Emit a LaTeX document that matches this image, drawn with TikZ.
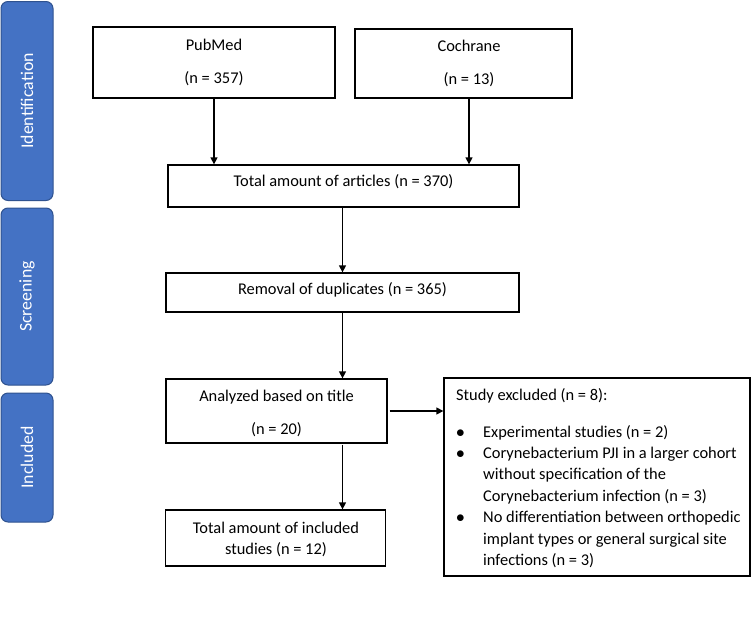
\documentclass[tikz,border=0pt]{standalone}
\usepackage{fontspec}
\setmainfont{Carlito}
\usetikzlibrary{arrows.meta}
\definecolor{phaseblue}{HTML}{4472C4}
\definecolor{phaseedge}{HTML}{2F528F}
\tikzset{
  phase/.style={draw=phaseedge, line width=1pt, fill=phaseblue, rounded corners=7pt},
  phasetext/.style={text=white, rotate=90, font=\fontsize{17.8}{20}\selectfont},
  flowbox/.style={draw=black, line width=1.3pt, inner sep=0pt},
  boxtext/.style={font=\fontsize{16.4}{19}\selectfont, inner sep=0pt, align=center},
  flowarrow/.style={draw=black, line width=1.3pt, -{Triangle[length=7pt,width=7pt]}},
  listtext/.style={font=\fontsize{16.4}{19}\selectfont, inner sep=0pt, anchor=base west},
}
\begin{document}
\begin{tikzpicture}[x=1pt,y=-1pt]
\useasboundingbox (0,0) rectangle (751,629);
% phase bars
\node[phase, minimum width=52pt, minimum height=199pt] (idbar) at (27,101) {};
\node[phasetext] (idtxt) at (idbar.center) {Identification};
\node[phase, minimum width=52pt, minimum height=177pt] (scbar) at (27,296.5) {};
\node[phasetext] (sctxt) at (scbar.center) {Screening};
\node[phase, minimum width=52pt, minimum height=129pt] (inbar) at (27,457.5) {};
\node[phasetext] (intxt) at (inbar.center) {Included};
% boxes
\node[flowbox, minimum width=242pt, minimum height=71pt] (pub) at (214,62.5) {};
\node[boxtext] (pubt1) at (214,44.5) {PubMed};
\node[boxtext] (pubt2) at (214,78.5) {(n = 357)};
\node[flowbox, minimum width=217pt, minimum height=69pt] (coch) at (463.5,63.5) {};
\node[boxtext] (cocht1) at (469,45.5) {Cochrane};
\node[boxtext] (cocht2) at (469,80) {(n = 13)};
\node[flowbox, minimum width=351pt, minimum height=42pt] (total) at (343.5,186) {};
\node[boxtext] (totalt) at (343.5,182) {Total amount of articles (n = 370)};
\node[flowbox, minimum width=353pt, minimum height=39pt] (remov) at (342.5,292.5) {};
\node[boxtext] (removt) at (342.5,289.5) {Removal of duplicates (n = 365)};
\node[flowbox, minimum width=221pt, minimum height=64pt] (anal) at (276.5,411) {};
\node[boxtext] (analt1) at (276.5,397) {Analyzed based on title};
\node[boxtext] (analt2) at (276.5,430) {(n = 20)};
\node[flowbox, minimum width=220pt, minimum height=56pt] (incl) at (275.5,538) {};
\node[boxtext] (inclt1) at (276,528) {Total amount of included};
\node[boxtext] (inclt2) at (276,550) {studies (n = 12)};
\node[flowbox, minimum width=306pt, minimum height=198pt] (excl) at (597,477) {};
\node[listtext] (ex0) at (456,400) {Study excluded (n = 8):};
\node[listtext] (b1) at (456,437) {$\bullet$};
\node[listtext] (ex1) at (483,437) {Experimental studies (n = 2)};
\node[listtext] (b2) at (456,458) {$\bullet$};
\node[listtext] (ex2) at (483,458) {Corynebacterium PJI in a larger cohort};
\node[listtext] (ex3) at (483,479.5) {without specification of the};
\node[listtext] (ex4) at (483,501) {Corynebacterium infection (n = 3)};
\node[listtext] (b3) at (456,522.5) {$\bullet$};
\node[listtext] (ex5) at (483,522.5) {No differentiation between orthopedic};
\node[listtext] (ex6) at (483,544) {implant types or general surgical site};
\node[listtext] (ex7) at (483,565.5) {infections (n = 3)};
% arrows
\draw[flowarrow] (pub.south) -- (total.north -| pub.south);
\draw[flowarrow] (coch.south -| cocht1) -- (total.north -| cocht1);
\draw[flowarrow] (total.south -| remov.north) -- (remov.north);
\draw[flowarrow] (remov.south) -- (anal.north -| remov.south);
\draw[flowarrow] ([xshift=2pt]anal.east) -- (excl.west |- anal.east);
\draw[flowarrow] ([yshift=-1pt]anal.south -| remov.south) -- (incl.north -| remov.south);
\end{tikzpicture}
\end{document}
